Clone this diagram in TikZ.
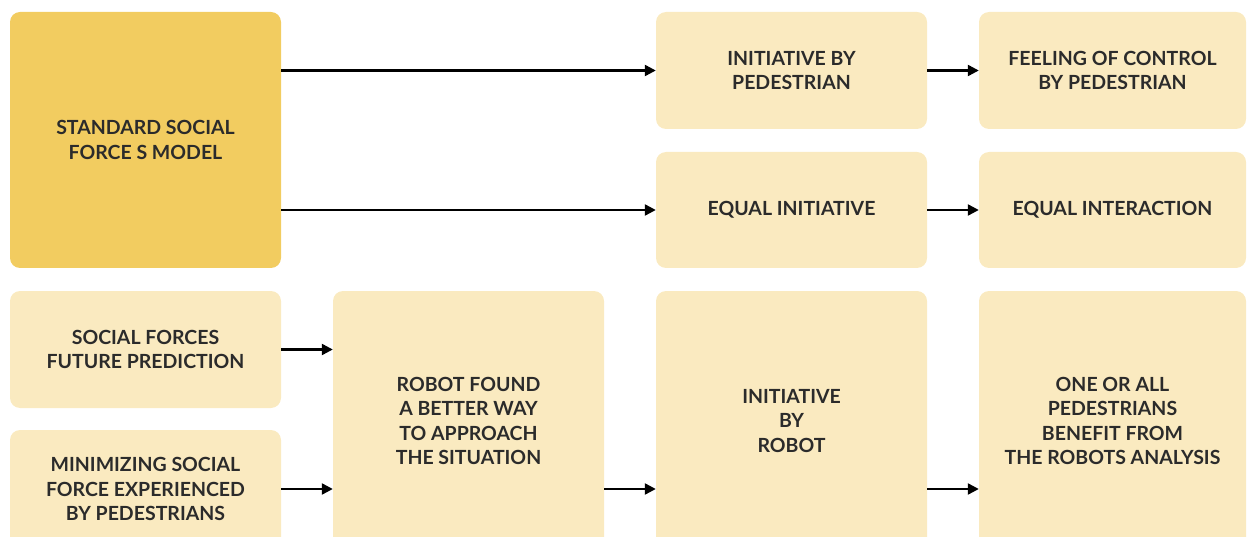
\documentclass[tikz,border=0pt]{standalone}
\usepackage{fontspec}
\setmainfont{Lato}
\usetikzlibrary{arrows.meta}
\definecolor{boxdark}{HTML}{F2CC60}
\definecolor{boxlight}{HTML}{FAEAC0}
\definecolor{txtgray}{HTML}{2B2B2B}

\begin{document}
\begin{tikzpicture}[x=1pt, y=-1pt, font=\fontsize{19.5}{24.5}\selectfont\bfseries]
    % Box and arrow styles
    \tikzset{box/.style={rounded corners=10pt, fill=boxlight, text=txtgray, align=center, inner sep=0pt, minimum width=271pt, minimum height=117pt},
             keybox/.style={box, fill=boxdark},
             link/.style={-{Triangle[length=11pt,width=11pt]}, line width=2.3pt}}

    \clip (0,0) rectangle (1247,537);

    % Left column
    \node[keybox, minimum height=256pt] (sfm) at (145.5,140) {STANDARD SOCIAL\\FORCE S MODEL};
    \node[box] (sp) at (145.5,349.5) {SOCIAL FORCES\\FUTURE PREDICTION};
    \node[box, minimum height=118pt] (ms) at (145.5,489) {MINIMIZING SOCIAL\\FORCE EXPERIENCED\\BY PEDESTRIANS};

    % Second column
    \node[box, minimum height=260pt] (rf) at (468.5,421) {ROBOT FOUND\\A BETTER WAY\\TO APPROACH\\THE SITUATION};

    % Third column
    \node[box] (ip) at (791.5,70.5) {INITIATIVE BY\\PEDESTRIAN};
    \node[box, minimum height=116pt] (ei) at (791.5,210) {EQUAL INITIATIVE};
    \node[box, minimum height=260pt] (ir) at (791.5,421) {INITIATIVE\\BY\\ROBOT};

    % Right column
    \node[box, minimum width=267pt] (fc) at (1112.5,70.5) {FEELING OF CONTROL\\BY PEDESTRIAN};
    \node[box, minimum width=267pt, minimum height=116pt] (eq) at (1112.5,210) {EQUAL INTERACTION};
    \node[box, minimum width=267pt, minimum height=260pt] (ob) at (1112.5,421) {ONE OR ALL\\PEDESTRIANS\\BENEFIT FROM\\THE ROBOTS ANALYSIS};

    % Arrows from the standard model
    \draw[link] (sfm.east |- ip.west) -- (ip.west);
    \draw[link] (sfm.east |- ei.west) -- (ei.west);
    \draw[link] (ip) -- (fc);
    \draw[link] (ei) -- (eq);

    % Arrows in the lower row
    \draw[link] (sp.east) -- (sp.east -| rf.west);
    \draw[link] (ms.east) -- (ms.east -| rf.west);
    \draw[link] (rf.east |- ms.east) -- (ir.west |- ms.east);
    \draw[link] (ir.east |- ms.east) -- (ob.west |- ms.east);
\end{tikzpicture}
\end{document}
